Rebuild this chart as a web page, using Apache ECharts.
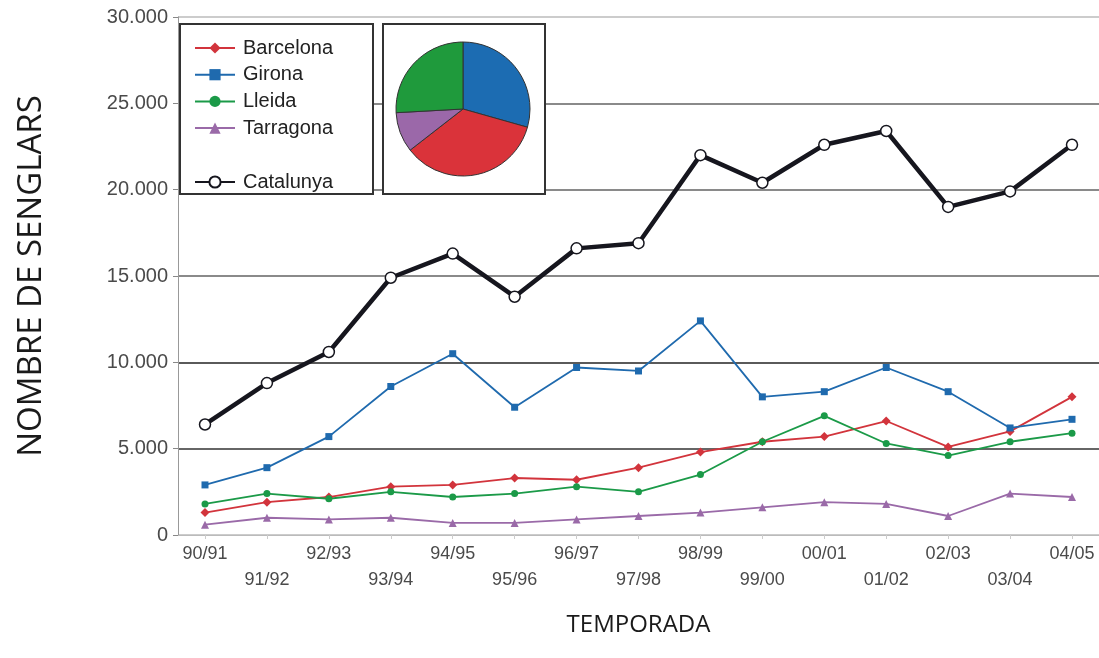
<!DOCTYPE html>
<html>
<head>
<meta charset="utf-8">
<script src="https://cdn.jsdelivr.net/npm/echarts@6/dist/echarts.min.js"></script>
<style>html,body{margin:0;padding:0;background:#fff;}#c{width:1099px;height:658px;}</style>
</head>
<body>
<div id="c"></div>
<script>
const seasons = ['90/91','91/92','92/93','93/94','94/95','95/96','96/97','97/98','98/99','99/00','00/01','01/02','02/03','03/04','04/05'];
const barcelona = [1300,1900,2200,2800,2900,3300,3200,3900,4800,5400,5700,6600,5100,6000,8000];
const girona    = [2900,3900,5700,8600,10500,7400,9700,9500,12400,8000,8300,9700,8300,6200,6700];
const lleida    = [1800,2400,2100,2500,2200,2400,2800,2500,3500,5400,6900,5300,4600,5400,5900];
const tarragona = [600,1000,900,1000,700,700,900,1100,1300,1600,1900,1800,1100,2400,2200];
const catalunya = [6400,8800,10600,14900,16300,13800,16600,16900,22000,20400,22600,23400,19000,19900,22600];
const yTicks = [0,5000,10000,15000,20000,25000,30000];

const C = {bcn:'#d2343c', gir:'#1f6aae', lle:'#1b9a48', tar:'#9a6aa8', cat:'#16161e'};
const last = a => a[a.length-1];
const fmt = v => String(v).replace(/\B(?=(\d{3})+(?!\d))/g,'.');

const chart = echarts.init(document.getElementById('c'));
chart.setOption({
  animation:false,
  backgroundColor:'#fff',
  grid:[
    {left:178,right:0,top:17,bottom:123,outerBoundsMode:'none',containLabel:false},
    {left:205,right:27,top:17,bottom:123,outerBoundsMode:'none',containLabel:false}
  ],
  xAxis:[
    {gridIndex:0,type:'value',min:0,max:1,show:true,
     axisLine:{show:true,lineStyle:{color:'#bbb',width:1}},axisTick:{show:false},axisLabel:{show:false},splitLine:{show:false},
     name:'TEMPORADA',nameLocation:'middle',nameGap:78,
     nameTextStyle:{fontFamily:'Open Sans',fontSize:24,color:'#1a1a1a'}},
    {gridIndex:1,type:'category',data:seasons,boundaryGap:false,
     axisLine:{show:false},
     axisTick:{show:true,length:4,inside:false,lineStyle:{color:'#ccc'}},
     axisLabel:{interval:0,margin:6,lineHeight:26,fontFamily:'Liberation Sans',fontSize:18,color:'#4a4a4a',
       formatter:(v,i)=> i%2 ? '\n'+v : v},
     splitLine:{show:false}}
  ],
  yAxis:[
    {gridIndex:0,type:'value',min:0,max:30000,interval:5000,
     axisLine:{show:true,lineStyle:{color:'#999',width:1}},
     axisTick:{show:true,length:5,lineStyle:{color:'#888'}},
     axisLabel:{margin:10,fontFamily:'Liberation Sans',fontSize:20,color:'#4a4a4a',formatter:fmt},
     splitLine:{show:true,lineStyle:{width:2,color:['#ccc','#666','#5a5a5a','#8a8a8a','#8a8a8a','#8a8a8a','#ccc']}},
     name:'NOMBRE DE SENGLARS',nameLocation:'middle',nameGap:130,
     nameTextStyle:{fontFamily:'Open Sans',fontSize:33,color:'#1a1a1a'}},
    {gridIndex:1,type:'value',min:0,max:30000,interval:5000,show:false}
  ],
  legend:[
    {orient:'vertical',left:189,top:33,itemWidth:40,itemHeight:14,itemGap:6.7,z:20,
     textStyle:{fontFamily:'Liberation Sans',fontSize:20,color:'#222',padding:[0,0,0,3]},
     data:['Barcelona','Girona','Lleida','Tarragona']},
    {orient:'vertical',left:189,top:167,itemWidth:40,itemHeight:14,z:20,
     textStyle:{fontFamily:'Liberation Sans',fontSize:20,color:'#222',padding:[0,0,0,3]},
     data:['Catalunya']}
  ],
  graphic:[
    {type:'rect',z:10,shape:{x:180,y:24,width:193,height:170},style:{fill:'#fff',stroke:'#333',lineWidth:2}},
    {type:'rect',z:10,shape:{x:383,y:24,width:162,height:170},style:{fill:'#fff',stroke:'#333',lineWidth:2}}
  ],
  series:[
    {name:'Barcelona',type:'line',xAxisIndex:1,yAxisIndex:1,data:barcelona,symbol:'diamond',symbolSize:9,
     lineStyle:{color:C.bcn,width:1.8},itemStyle:{color:C.bcn}},
    {name:'Girona',type:'line',xAxisIndex:1,yAxisIndex:1,data:girona,symbol:'rect',symbolSize:7,
     lineStyle:{color:C.gir,width:1.8},itemStyle:{color:C.gir}},
    {name:'Lleida',type:'line',xAxisIndex:1,yAxisIndex:1,data:lleida,symbol:'circle',symbolSize:7,
     lineStyle:{color:C.lle,width:1.8},itemStyle:{color:C.lle}},
    {name:'Tarragona',type:'line',xAxisIndex:1,yAxisIndex:1,data:tarragona,symbol:'triangle',symbolSize:8,
     lineStyle:{color:C.tar,width:1.8},itemStyle:{color:C.tar}},
    {name:'Catalunya',type:'line',xAxisIndex:1,yAxisIndex:1,data:catalunya,symbol:'circle',symbolSize:11,
     lineStyle:{color:C.cat,width:4.5},itemStyle:{color:'#fff',borderColor:C.cat,borderWidth:1.5}},
    {type:'pie',z:15,center:[463,109],radius:67,startAngle:90,clockwise:true,silent:true,
     label:{show:false},labelLine:{show:false},
     itemStyle:{borderColor:'#333',borderWidth:1},
     data:[
       {name:'Girona',value:last(girona),itemStyle:{color:'#1c6cb2'}},
       {name:'Barcelona',value:last(barcelona),itemStyle:{color:'#da333a'}},
       {name:'Tarragona',value:last(tarragona),itemStyle:{color:'#9b68a9'}},
       {name:'Lleida',value:last(lleida),itemStyle:{color:'#1f9a3c'}}
     ]}
  ]
});
</script>
</body>
</html>
